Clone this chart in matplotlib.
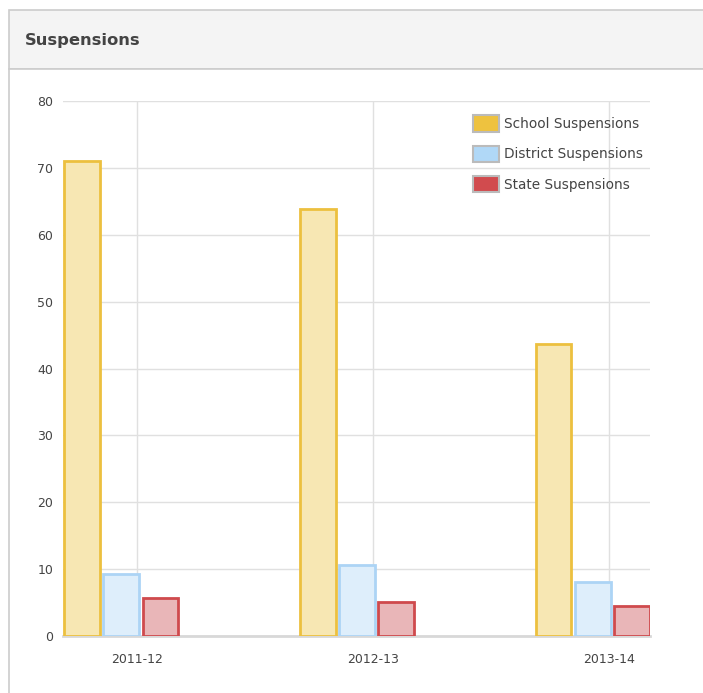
import numpy as np
import matplotlib
matplotlib.use("Agg")
import matplotlib.pyplot as plt
from matplotlib.patches import Rectangle, Patch

years = ["2011-12", "2012-13", "2013-14"]
school = [71.0, 63.8, 43.7]
district = [9.3, 10.6, 8.1]
state = [5.7, 5.1, 4.5]

series_names = ["School Suspensions", "District Suspensions", "State Suspensions"]
fills = ["#f7e7b3", "#deeefb", "#e9b6b8"]
edges = ["#ecc03f", "#acd4f5", "#cf4a4d"]
solid = ["#eec23f", "#b0d8f7", "#d14b4e"]

W, H = 703, 693
fig = plt.figure(figsize=(W / 100, H / 100), dpi=100)
fig.patch.set_facecolor("white")

# panel header
fig.patches.append(Rectangle((9 / W, 1 - 69 / H), 1, 59 / H, transform=fig.transFigure,
                             facecolor="#f4f4f4", edgecolor="#cccccc", linewidth=1.2,
                             zorder=-10))
fig.patches.append(Rectangle((9 / W, -0.01), 1, 1 - 69 / H + 0.01, transform=fig.transFigure,
                             facecolor="white", edgecolor="#cccccc", linewidth=1.2,
                             zorder=-10))
fig.text(25 / W, 1 - 41 / H, "Suspensions", fontsize=11.8, fontweight="bold",
         color="#444444", va="center", ha="left")

ax = fig.add_axes([63 / W, 57 / H, (650 - 63) / W, (636 - 101) / H])
ax.set_facecolor("none")

x = np.arange(len(years))
offsets = [-0.235, -0.068, 0.099]
width = 0.152
for vals, off, fc, ec in zip([school, district, state], offsets, fills, edges):
    ax.bar(x + off, vals, width, color=fc, edgecolor=ec, linewidth=2.0, zorder=3)

ax.set_xlim(-0.314, 2.174)
ax.set_ylim(0, 80)
ax.set_yticks(np.arange(0, 81, 10))
ax.set_xticks(x)
ax.set_xticklabels(years)
ax.grid(True, color="#e0e0e0", linewidth=1.0, zorder=0)
ax.set_axisbelow(True)
for s in ["top", "right", "left"]:
    ax.spines[s].set_visible(False)
ax.spines["bottom"].set_color("#d8d8d8")
ax.spines["bottom"].set_linewidth(2)
ax.tick_params(axis="both", length=0, labelsize=9, colors="#444444")
ax.tick_params(axis="y", pad=7)
ax.tick_params(axis="x", pad=12)

handles = [Patch(facecolor=c, edgecolor="#bbbbbb", linewidth=1.5) for c in solid]
leg = ax.legend(handles, series_names, loc="upper right", bbox_to_anchor=(1.009, 0.996),
                frameon=False, fontsize=9.8, labelspacing=1.0, handlelength=1.9,
                handleheight=1.5, handletextpad=0.4)
for t in leg.get_texts():
    t.set_color("#444444")

plt.savefig("out.png", dpi=100)
